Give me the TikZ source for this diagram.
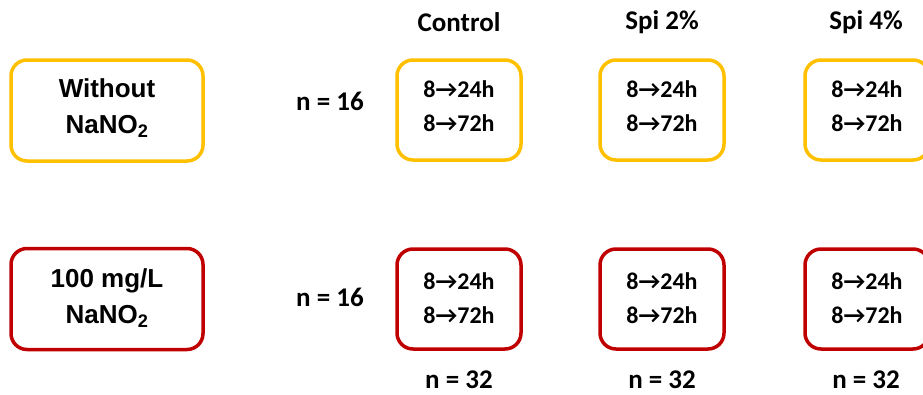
\documentclass[tikz,border=0pt]{standalone}
\usepackage{fontspec}
\setmainfont{Carlito}
\newfontfamily\arialfont{Liberation Sans}
\definecolor{ygold}{HTML}{FFC000}
\definecolor{dred}{HTML}{C00000}
\begin{document}
\begin{tikzpicture}[x=1pt,y=-1pt,
  cbox/.style={draw, line width=3.5pt, rounded corners=16pt, minimum width=124pt, minimum height=100pt, inner sep=0pt},
  gbox/.style={draw, line width=3.5pt, rounded corners=16pt, minimum width=192pt, minimum height=101pt, inner sep=0pt},
  ctext/.style={align=center, inner sep=0pt, font=\bfseries\fontsize{24}{34}\selectfont},
  gtext/.style={align=center, inner sep=0pt, font=\arialfont\bfseries\fontsize{26}{36}\selectfont},
  lbl/.style={font=\bfseries\fontsize{27}{30}\selectfont, inner sep=0pt}]
\clip (0,0) rectangle (923,394);
\fill[white] (0,0) rectangle (923,394);
% headers
\node[lbl] (hc) at (459,22) {Control};
\node[lbl] (h2) at (662,22) {Spi 2\%};
\node[lbl] (h4) at (866,22) {Spi 4\%};
% group boxes
\node[gbox, ygold] (g1) at (107,110.5) {};
\node[gtext] (g1t) at (107,108) {Without\\NaNO\textsubscript{2}};
\node[gbox, dred] (g2) at (107,299) {};
\node[gtext] (g2t) at (107,298) {100 mg/L\\NaNO\textsubscript{2}};
% n = 16
\node[lbl] (n1) at (330,101) {n = 16};
\node[lbl] (n2) at (330,297) {n = 16};
% condition boxes
\foreach \nm/\x in {c/459, s2/662, s4/867}{
  \node[cbox, ygold] (\nm1) at (\x,110) {};
  \node[ctext] (\nm1t) at (\x,106) {8→24h\\8→72h};
  \node[cbox, dred] (\nm2) at (\x,299) {};
  \node[ctext] (\nm2t) at (\x,298) {8→24h\\8→72h};
}
% n = 32
\node[lbl] (m1) at (459,380) {n = 32};
\node[lbl] (m2) at (662,380) {n = 32};
\node[lbl] (m3) at (866,380) {n = 32};
\end{tikzpicture}
\end{document}
